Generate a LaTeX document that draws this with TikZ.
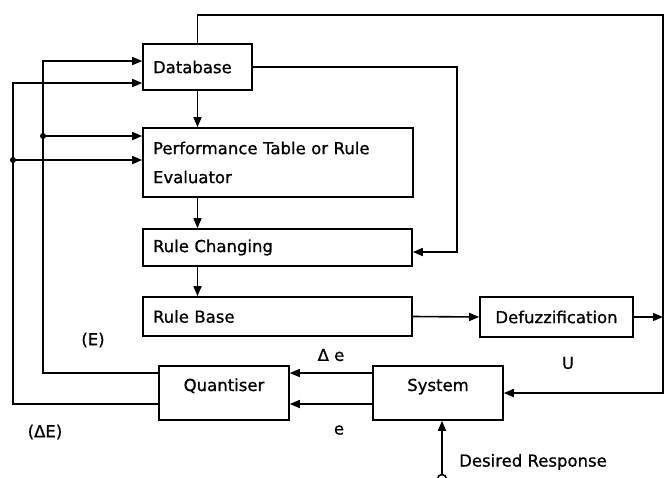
\documentclass[tikz,border=0pt]{standalone}
\usepackage{fontspec}
\setmainfont{DejaVu Sans}[FakeBold=0.9]
\usepackage{tikz}
\usetikzlibrary{arrows.meta}
\newcommand{\dgfont}{\fontsize{16.5}{20}\selectfont}
\tikzstyle{blockbox} = [draw=black, line width=1.6pt, rectangle, inner xsep=10pt, align=left, font=\dgfont]
\tikzstyle{topbox} = [blockbox, align=center, minimum width=130pt, inner ysep=8pt, text height=17pt, text depth=21pt]
\tikzstyle{sig} = [line width=1.6pt, -{Triangle[length=10pt,width=8pt]}]
\tikzstyle{wire} = [line width=1.6pt]
\tikzstyle{lbl} = [font=\dgfont]

\begin{document}
\begin{tikzpicture}[x=1pt,y=-1pt]
\useasboundingbox (0,0) rectangle (667,477);
\node [blockbox, text width=89pt, minimum height=46pt] (db) at (197.5,67) {Database};
\node [blockbox, text width=250pt, minimum height=69pt, font=\fontsize{16.5}{29}\selectfont] (perf) at (278,162.5) {Performance Table or Rule\\Evaluator};
\node [blockbox, text width=249pt, minimum height=37pt] (rc) at (277.5,247.5) {Rule Changing};
\node [blockbox, text width=249pt, minimum height=39pt] (rb) at (277.5,316.5) {Rule Base};
\node [blockbox, align=center, minimum width=153pt, minimum height=40pt] (defuzz) at (556.5,317) {Defuzzification};
\node [topbox] (quant) at (224,393) {Quantiser};
\node [topbox] (sys) at (438,393) {System};
\node [circle, draw, line width=1.6pt, minimum size=9pt, inner sep=0pt] (ref) at (442,479) {};

\coordinate (topR) at (663,15);
\coordinate (rcR) at (457,252);
\coordinate (loopE) at (43,136);
\coordinate (loopDE) at (13,160);

\draw[sig] (db.south) -- (db.south |- perf.north);
\draw[sig] (db.south |- perf.south) -- (db.south |- rc.north);
\draw[sig] (db.south |- rc.south) -- (db.south |- rb.north);
\draw[sig] (rb.east) -- (defuzz.west);
\draw[sig] (db.east) -| (rcR) -- (rcR -| rc.east);
\draw[sig] (db.north) |- (topR) |- (sys.east);
\draw[sig] (defuzz.east) -- (defuzz.east -| topR);
\draw[sig] ([yshift=20pt]sys.west) -- ([yshift=20pt]quant.east);
\draw[sig] ([yshift=-11pt]sys.west) -- ([yshift=-11pt]quant.east);
\draw[wire] ([yshift=20pt]quant.west) -| (loopE);
\draw[sig] (loopE) |- ([yshift=6pt]db.west);
\draw[sig] (loopE) -- (loopE -| perf.west);
\draw[wire] ([yshift=-11pt]quant.west) -| (loopDE);
\draw[sig] (loopDE) |- ([yshift=-16pt]db.west);
\draw[sig] (loopDE) -- (loopDE -| perf.west);
\fill (loopE) circle (3pt);
\fill (loopDE) circle (3pt);
\draw[sig] (ref.north) -- (ref.north |- sys.south);

\node[lbl] (lE) at (93,340) {(E)};
\node[lbl] (lDE) at (45,432) {(ΔE)};
\node[lbl] (lde) at (331,355) {Δ e};
\node[lbl] (le) at (339,430) {e};
\node[lbl] (lU) at (568,363) {U};
\node[lbl] (lref) at (533,462) {Desired Response};
\end{tikzpicture}
\end{document}
